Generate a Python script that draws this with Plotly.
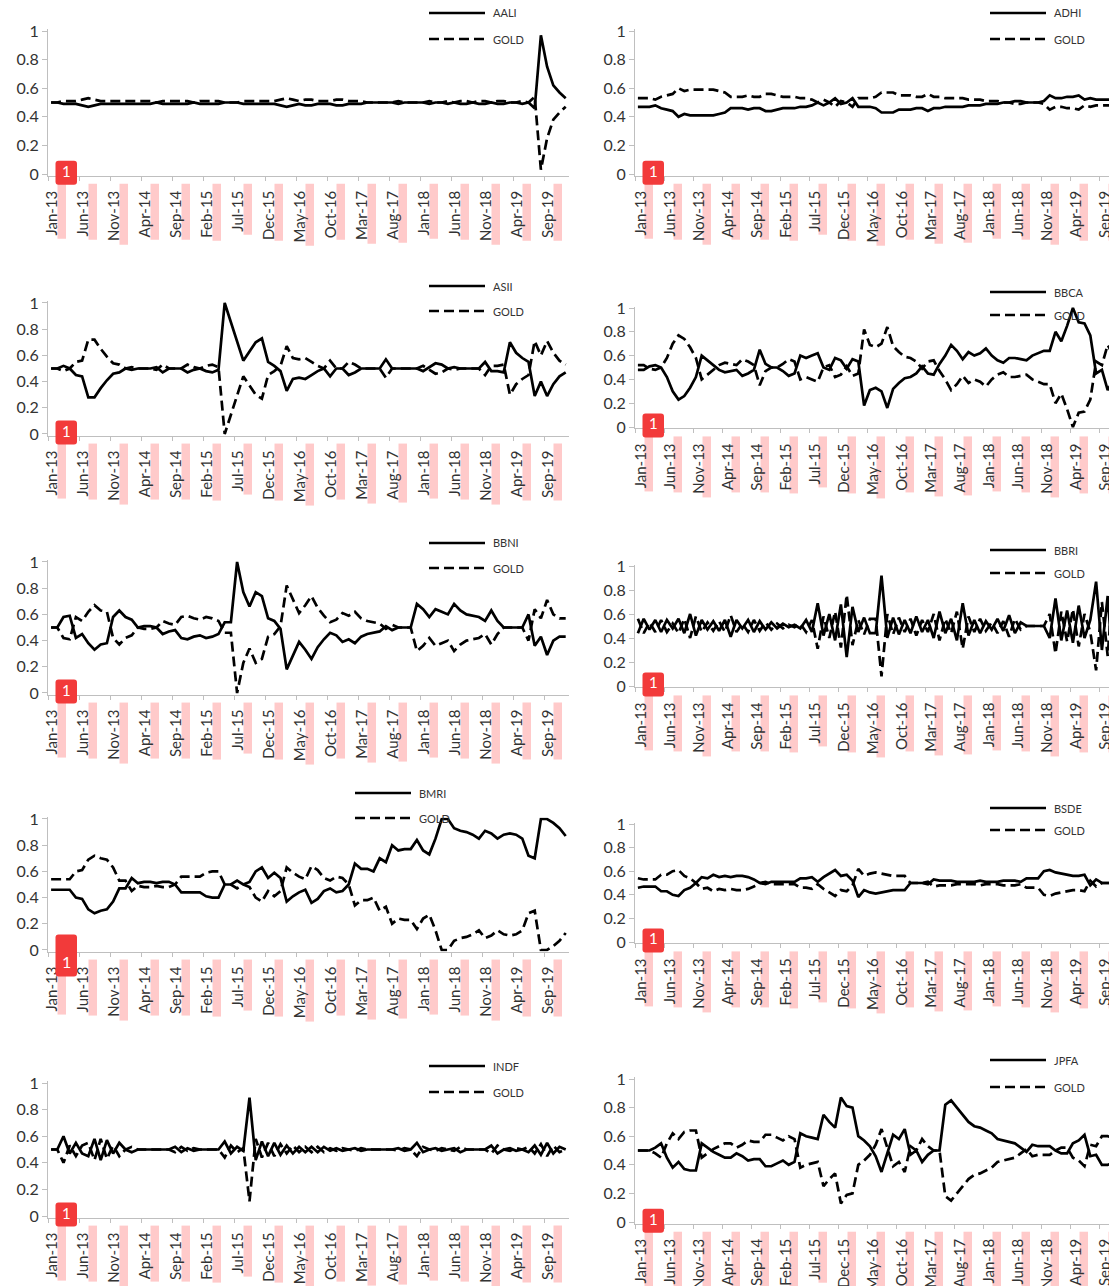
import plotly.graph_objects as go

# ---------------- categories / ticks ----------------
MONTH_ABBR = ["Jan", "Feb", "Mar", "Apr", "May", "Jun", "Jul", "Aug", "Sep", "Oct", "Nov", "Dec"]
months = [f"{m}-{y}" for y in range(13, 20) for m in MONTH_ABBR]  # Jan-13 .. Dec-19
month_pos = list(range(len(months)))                              # category slots 0..83

tick_labels = ["Jan-13", "Jun-13", "Nov-13", "Apr-14", "Sep-14", "Feb-15", "Jul-15", "Dec-15",
               "May-16", "Oct-16", "Mar-17", "Aug-17", "Jan-18", "Jun-18", "Nov-18", "Apr-19", "Sep-19"]
tick_pos = [months.index(t) for t in tick_labels]
y_tick_vals = [0, 0.2, 0.4, 0.6, 0.8, 1]
y_tick_text = ["0", "0.2", "0.4", "0.6", "0.8", "1"]

# ---------------- series values ----------------
aali = [.50, .50, .49, .49, .49, .48, .47, .48, .49, .49,
        .49, .49, .49, .49, .49, .49, .49, .50, .49, .49,
        .49, .49, .49, .50, .49, .49, .49, .49, .50, .50,
        .50, .49, .49, .49, .49, .49, .49, .48, .47, .48,
        .49, .48, .48, .49, .49, .49, .48, .48, .49, .49,
        .49, .50, .50, .50, .50, .50, .49, .50, .50, .50,
        .50, .49, .50, .50, .49, .50, .49, .49, .50, .49,
        .49, .50, .49, .49, .50, .50, .49, .50, .46, .97,
        .75, .62, .57, .53]
aali_gold = [.50, .50, .51, .51, .51, .52, .53, .52, .51, .51,
             .51, .51, .51, .51, .51, .51, .51, .50, .51, .51,
             .51, .51, .51, .50, .51, .51, .51, .51, .50, .50,
             .50, .51, .51, .51, .51, .51, .51, .52, .53, .52,
             .51, .52, .52, .51, .51, .51, .52, .52, .51, .51,
             .51, .50, .50, .50, .50, .50, .51, .50, .50, .50,
             .50, .51, .50, .50, .51, .50, .51, .51, .50, .51,
             .51, .50, .51, .51, .50, .50, .51, .50, .54, .03,
             .25, .38, .43, .47]

adhi = [.47, .47, .47, .48, .46, .45, .44, .40, .42, .41,
        .41, .41, .41, .41, .42, .43, .46, .46, .46, .45,
        .46, .46, .44, .44, .45, .46, .46, .46, .47, .47,
        .48, .50, .48, .50, .53, .49, .50, .53, .47, .47,
        .47, .46, .43, .43, .43, .45, .45, .45, .46, .46,
        .44, .46, .46, .47, .47, .47, .47, .48, .48, .48,
        .49, .49, .49, .50, .50, .51, .51, .50, .50, .50,
        .51, .55, .53, .53, .54, .54, .55, .52, .53, .52,
        .52, .52, .52, .52]
adhi_gold = [.53, .53, .53, .52, .54, .55, .56, .60, .58, .59,
             .59, .59, .59, .59, .58, .57, .54, .54, .54, .55,
             .54, .54, .56, .56, .55, .54, .54, .54, .53, .53,
             .52, .50, .52, .50, .47, .51, .50, .47, .53, .53,
             .53, .54, .57, .57, .57, .55, .55, .55, .54, .54,
             .56, .54, .54, .53, .53, .53, .53, .52, .52, .52,
             .51, .51, .51, .50, .50, .49, .49, .50, .50, .50,
             .49, .45, .47, .47, .46, .46, .45, .48, .47, .48,
             .48, .48, .48, .48]

asii = [.50, .50, .52, .50, .45, .44, .28, .28, .35, .41,
        .46, .47, .50, .49, .50, .50, .50, .51, .47, .50,
        .50, .50, .47, .49, .50, .48, .47, .49, 1.0, .85,
        .70, .56, .63, .70, .73, .55, .52, .48, .33, .42,
        .43, .42, .45, .48, .50, .44, .50, .50, .45, .47,
        .50, .50, .50, .50, .57, .50, .50, .50, .50, .50,
        .48, .51, .54, .53, .50, .51, .50, .50, .50, .50,
        .55, .48, .48, .47, .70, .62, .58, .55, .29, .40,
        .29, .38, .44, .47]
asii_gold = [.50, .50, .48, .50, .55, .56, .72, .72, .65, .59,
             .54, .53, .50, .51, .50, .50, .50, .49, .53, .50,
             .50, .50, .53, .51, .50, .52, .53, .51, .00, .15,
             .30, .44, .37, .30, .27, .45, .48, .52, .67, .58,
             .57, .58, .55, .52, .50, .56, .50, .50, .55, .53,
             .50, .50, .50, .50, .43, .50, .50, .50, .50, .50,
             .52, .49, .46, .47, .50, .49, .50, .50, .50, .50,
             .45, .52, .52, .53, .30, .38, .42, .45, .71, .60,
             .71, .62, .56, .53]

bbca = [.48, .48, .51, .52, .50, .42, .30, .23, .26, .33,
        .42, .60, .56, .52, .48, .46, .47, .48, .43, .45,
        .48, .65, .53, .50, .50, .47, .43, .45, .60, .58,
        .60, .62, .50, .48, .58, .56, .49, .57, .55, .18,
        .31, .33, .30, .16, .32, .37, .41, .42, .45, .51,
        .45, .44, .53, .60, .69, .64, .57, .63, .60, .62,
        .66, .60, .56, .54, .58, .58, .57, .56, .60, .62,
        .64, .64, .80, .72, .85, 1.0, .88, .87, .77, .45,
        .48, .31, .40, .46]
bbca_gold = [.52, .52, .49, .48, .50, .58, .70, .77, .74, .67,
             .58, .40, .44, .48, .52, .54, .53, .52, .57, .55,
             .52, .35, .47, .50, .50, .53, .57, .55, .40, .42,
             .40, .38, .50, .52, .42, .44, .51, .43, .45, .82,
             .69, .67, .70, .84, .68, .63, .59, .58, .55, .49,
             .55, .56, .47, .40, .31, .36, .43, .37, .40, .38,
             .34, .40, .44, .46, .42, .42, .43, .44, .40, .38,
             .36, .36, .20, .28, .15, .00, .12, .13, .23, .55,
             .52, .69, .60, .54]

bbni = [.50, .50, .58, .59, .42, .45, .38, .33, .37, .38,
        .58, .63, .58, .56, .50, .51, .51, .50, .45, .47,
        .48, .42, .41, .43, .44, .42, .43, .45, .54, .54,
        1.0, .77, .66, .77, .74, .57, .55, .49, .18, .29,
        .39, .33, .26, .35, .41, .46, .44, .39, .41, .38,
        .43, .45, .46, .47, .51, .48, .50, .50, .50, .68,
        .64, .58, .64, .62, .60, .68, .63, .60, .59, .58,
        .55, .63, .55, .50, .50, .50, .50, .60, .36, .43,
        .29, .40, .43, .43]
bbni_gold = [.50, .50, .42, .41, .58, .55, .62, .67, .63, .62,
             .42, .37, .42, .44, .50, .49, .49, .50, .55, .53,
             .52, .58, .59, .57, .56, .58, .57, .55, .46, .46,
             .00, .23, .34, .23, .26, .43, .45, .51, .82, .71,
             .61, .67, .74, .65, .59, .54, .56, .61, .59, .62,
             .57, .55, .54, .53, .49, .52, .50, .50, .50, .32,
             .36, .42, .36, .38, .40, .32, .37, .40, .41, .42,
             .45, .37, .45, .50, .50, .50, .50, .40, .64, .57,
             .71, .60, .57, .57]

bbri = [.44, .56, .47, .55, .45, .55, .48, .56, .44, .60,
        .42, .55, .47, .54, .46, .55, .41, .55, .48, .55,
        .45, .54, .47, .53, .48, .52, .49, .51, .48, .55,
        .45, .69, .42, .60, .38, .68, .24, .66, .45, .57,
        .44, .44, .92, .40, .57, .43, .55, .44, .58, .45,
        .55, .40, .62, .44, .56, .38, .69, .42, .55, .44,
        .54, .47, .56, .46, .59, .44, .53, .50, .50, .50,
        .50, .40, .73, .38, .63, .36, .67, .40, .55, .87,
        .30, .75, .08, .60]
bbri_gold = [.56, .44, .53, .45, .55, .45, .52, .44, .56, .40,
             .58, .45, .53, .46, .54, .45, .59, .45, .52, .45,
             .55, .46, .53, .47, .52, .48, .51, .49, .52, .45,
             .55, .31, .58, .40, .62, .32, .76, .34, .55, .43,
             .56, .56, .08, .60, .43, .57, .45, .56, .42, .55,
             .45, .60, .38, .56, .44, .62, .31, .58, .45, .56,
             .46, .53, .44, .54, .41, .56, .47, .50, .50, .50,
             .50, .60, .27, .62, .37, .64, .33, .60, .45, .13,
             .70, .25, .92, .40]

bmri = [.46, .46, .46, .46, .40, .39, .31, .28, .30, .31,
        .37, .47, .47, .55, .51, .52, .52, .51, .52, .52,
        .50, .44, .44, .44, .44, .41, .40, .40, .50, .50,
        .53, .50, .52, .60, .63, .55, .59, .55, .37, .41,
        .44, .46, .36, .39, .45, .47, .44, .45, .50, .66,
        .62, .62, .60, .70, .67, .80, .76, .77, .77, .84,
        .76, .73, .85, 1.0, 1.0, .93, .91, .90, .88, .85,
        .91, .89, .85, .88, .89, .88, .85, .72, .70, 1.0,
        1.0, .97, .93, .87]
bmri_gold = [.54, .54, .54, .54, .60, .61, .69, .72, .70, .69,
             .63, .53, .53, .45, .49, .48, .48, .49, .48, .48,
             .50, .56, .56, .56, .56, .59, .60, .60, .50, .50,
             .47, .50, .48, .40, .37, .45, .41, .45, .63, .59,
             .56, .54, .64, .61, .55, .53, .56, .55, .50, .34,
             .38, .38, .40, .30, .33, .20, .24, .23, .23, .16,
             .24, .27, .15, .00, .00, .07, .09, .10, .12, .15,
             .09, .11, .15, .12, .11, .12, .15, .28, .30, .00,
             .00, .03, .07, .13]

bsde = [.46, .47, .47, .47, .43, .43, .40, .39, .44, .46,
        .50, .55, .54, .57, .55, .56, .55, .56, .56, .55,
        .53, .50, .49, .51, .51, .51, .51, .51, .54, .54,
        .55, .51, .55, .58, .61, .56, .57, .52, .38, .44,
        .42, .41, .42, .43, .44, .44, .44, .50, .50, .50,
        .49, .53, .52, .52, .52, .51, .51, .51, .51, .52,
        .51, .51, .51, .52, .52, .52, .51, .54, .54, .54,
        .60, .61, .59, .58, .57, .56, .56, .57, .48, .53,
        .50, .50, .50, .50]
bsde_gold = [.54, .53, .53, .53, .57, .57, .60, .61, .56, .54,
             .50, .45, .46, .43, .45, .44, .45, .44, .44, .45,
             .47, .50, .51, .49, .49, .49, .49, .49, .46, .46,
             .45, .49, .45, .42, .39, .44, .43, .48, .62, .56,
             .58, .59, .58, .57, .56, .56, .56, .50, .50, .50,
             .51, .47, .48, .48, .48, .49, .49, .49, .49, .48,
             .49, .49, .49, .48, .48, .48, .49, .46, .46, .46,
             .40, .39, .41, .42, .43, .44, .44, .43, .52, .47,
             .50, .50, .50, .50]

indf = [.50, .50, .60, .47, .55, .47, .45, .58, .42, .57,
        .47, .55, .50, .48, .50, .50, .50, .50, .50, .50,
        .52, .48, .51, .49, .50, .50, .50, .50, .56, .47,
        .52, .49, .89, .42, .56, .45, .55, .46, .53, .47,
        .52, .48, .52, .48, .52, .49, .51, .49, .50, .51,
        .49, .50, .50, .50, .50, .50, .51, .49, .50, .55,
        .48, .50, .51, .49, .50, .51, .48, .50, .50, .50,
        .50, .53, .47, .50, .51, .49, .50, .48, .53, .46,
        .55, .47, .52, .50]
indf_gold = [.50, .50, .40, .53, .45, .53, .55, .42, .58, .43,
             .53, .45, .50, .52, .50, .50, .50, .50, .50, .50,
             .48, .52, .49, .51, .50, .50, .50, .50, .44, .53,
             .48, .51, .11, .58, .44, .55, .45, .54, .47, .53,
             .48, .52, .48, .52, .48, .51, .49, .51, .50, .49,
             .51, .50, .50, .50, .50, .50, .49, .51, .50, .45,
             .52, .50, .49, .51, .50, .49, .52, .50, .50, .50,
             .50, .47, .53, .50, .49, .51, .50, .52, .47, .54,
             .45, .53, .48, .50]

jpfa = [.50, .50, .50, .52, .55, .45, .38, .42, .37, .36,
        .36, .55, .52, .49, .47, .45, .45, .48, .46, .43,
        .44, .44, .39, .39, .41, .43, .40, .42, .62, .60,
        .59, .58, .75, .70, .66, .87, .81, .80, .60, .57,
        .53, .46, .35, .48, .61, .58, .65, .47, .50, .42,
        .47, .50, .50, .82, .85, .80, .75, .70, .67, .66,
        .64, .62, .58, .57, .56, .55, .52, .49, .54, .53,
        .53, .53, .50, .48, .48, .55, .57, .61, .46, .47,
        .40, .40, .41, .41]
jpfa_gold = [.50, .50, .50, .48, .45, .55, .62, .58, .63, .64,
             .64, .45, .48, .51, .53, .55, .55, .52, .54, .57,
             .56, .56, .61, .61, .59, .57, .60, .58, .38, .40,
             .41, .42, .25, .30, .34, .13, .19, .20, .40, .43,
             .47, .54, .65, .52, .39, .42, .35, .53, .50, .58,
             .53, .50, .50, .18, .15, .20, .25, .30, .33, .34,
             .36, .38, .42, .43, .44, .45, .48, .51, .46, .47,
             .47, .47, .50, .52, .52, .45, .43, .39, .54, .53,
             .60, .60, .59, .59]

# ---------------- layout geometry (window pixels) ----------------
WIN_W, WIN_H = 1117, 1286
PAGE_MARGIN = 8                       # default body margin of the written page
FIG_W, FIG_H = WIN_W - PAGE_MARGIN, WIN_H - PAGE_MARGIN
FONT = "Lato"
TXT = "#333333"
AXIS_GRAY = "#BFBFBF"

# x0: axis start (px); step: px per month; lab: label shift (px)
COLS = {
    "L": dict(x0=48, step=6.2, lab=4, leg=(429, 485, 491)),
    "R": dict(x0=635, step=5.8, lab=6, leg=(990, 1046, 1052)),
}
# name, stock, gold, column, y px of value 1, y px of value 0, legend y (name), legend y (GOLD)
panels = [
    ("AALI", aali, aali_gold, "L", 31, 174, 13, 39),
    ("ADHI", adhi, adhi_gold, "R", 31, 174, 13, 39),
    ("ASII", asii, asii_gold, "L", 303, 434, 286, 311),
    ("BBCA", bbca, bbca_gold, "R", 308, 427, 292, 315),
    ("BBNI", bbni, bbni_gold, "L", 562, 693, 543, 568),
    ("BBRI", bbri, bbri_gold, "R", 566, 686, 550, 573),
    ("BMRI", bmri, bmri_gold, "L", 819, 950, 793, 818),
    ("BSDE", bsde, bsde_gold, "R", 824, 942, 808, 830),
    ("INDF", indf, indf_gold, "L", 1083, 1216, 1066, 1092),
    ("JPFA", jpfa, jpfa_gold, "R", 1079, 1222, 1060, 1087),
]
legend_x_override = {"BMRI": (355, 411, 417)}

# pink marker bars beside each tick label (length below the axis, px)
bar_len_px = [63, 64, 69, 64, 64, 65, 59, 65, 70, 64, 68, 67, 63, 64, 69, 65, 65]

DASH = "10px,5px"
LW = 2.7

fig = go.Figure()
shapes, annotations = [], []
axes_layout = {}
fig_right_px = PAGE_MARGIN + FIG_W


def px_x(p):
    return (p - PAGE_MARGIN) / FIG_W


def px_y(p):
    return 1 - (p - PAGE_MARGIN) / FIG_H


for n, (name, stock, gold, col, ytop, ybot, ly1, ly2) in enumerate(panels, start=1):
    assert len(stock) == len(months) and len(gold) == len(months), name
    c = COLS[col]
    x_right_px = min(c["x0"] + 84 * c["step"], fig_right_px)
    rng = [-0.5, -0.5 + (x_right_px - c["x0"]) / c["step"]]
    pad = 0.012 * (ybot - ytop)
    ydom = [px_y(ybot + pad), px_y(ytop - pad)]
    xdom = [px_x(c["x0"]), min(1.0, px_x(x_right_px))]
    xa = "x" if n == 1 else f"x{n}"
    ya = "y" if n == 1 else f"y{n}"
    xkey = "xaxis" if n == 1 else f"xaxis{n}"
    ykey = "yaxis" if n == 1 else f"yaxis{n}"

    # tick marks sit on category boundaries, labels are shifted to category centres
    axes_layout[xkey] = dict(
        domain=xdom, anchor=ya, range=rng, automargin=False,
        tickmode="array", tickvals=[p - 0.5 for p in tick_pos], ticktext=tick_labels,
        tickangle=-90, tickfont=dict(family=FONT, size=15, color=TXT),
        showline=True, linecolor=AXIS_GRAY, linewidth=1,
        ticks="outside", ticklen=4, tickcolor=AXIS_GRAY,
        showgrid=False, zeroline=False, ticklabelshift=c["lab"], ticklabelstandoff=4,
    )
    axes_layout[ykey] = dict(
        domain=ydom, anchor=xa, range=[-0.012, 1.012], automargin=False,
        tickmode="array", tickvals=y_tick_vals, ticktext=y_tick_text,
        tickfont=dict(family=FONT, size=16, color=TXT),
        showline=True, linecolor=AXIS_GRAY, linewidth=1,
        ticks="outside", ticklen=5, tickcolor=AXIS_GRAY,
        showgrid=False, zeroline=False,
    )

    fig.add_trace(go.Scatter(x=month_pos, y=stock, mode="lines", name=name, text=months,
                             line=dict(color="black", width=LW),
                             xaxis=xa, yaxis=ya, showlegend=False, hoverinfo="skip"))
    fig.add_trace(go.Scatter(x=month_pos, y=gold, mode="lines", name="GOLD", text=months,
                             line=dict(color="black", width=LW, dash=DASH),
                             xaxis=xa, yaxis=ya, showlegend=False, hoverinfo="skip"))

    # legend (drawn manually)
    lx0, lx1, tx = legend_x_override.get(name, c["leg"])
    for label, ly, dash in ((name, ly1, None), ("GOLD", ly2, DASH)):
        line = dict(color="black", width=LW)
        if dash:
            line["dash"] = dash
        shapes.append(dict(type="line", xref="paper", yref="paper",
                           x0=px_x(lx0), x1=px_x(lx1), y0=px_y(ly), y1=px_y(ly), line=line))
        annotations.append(dict(xref="paper", yref="paper", x=px_x(tx), y=px_y(ly),
                                xanchor="left", yanchor="middle", showarrow=False, text=label,
                                font=dict(family=FONT, size=11, color=TXT)))

    # pink bars beside tick labels
    xd = f"{xa}"
    yd = f"{ya} domain"
    for k, p in enumerate(tick_pos):
        shapes.append(dict(type="rect", xref=xd, yref=yd, layer="below",
                           xsizemode="pixel", xanchor=p - 0.5, x0=9.5, x1=18,
                           ysizemode="pixel", yanchor=0, y0=-8, y1=-bar_len_px[k],
                           fillcolor="#FFCACA", line=dict(width=0)))

    # red "1" badge
    if name == "BMRI":
        b_top, b_bot, t_shift, t_size = 17, -25, -10, 16
    else:
        b_top, b_bot, t_shift, t_size = 15, -9, 5, 15
    l, r, rr = 7.5, 29, 3
    path = (f"M{l + rr},{b_bot} L{r - rr},{b_bot} Q{r},{b_bot} {r},{b_bot + rr} "
            f"L{r},{b_top - rr} Q{r},{b_top} {r - rr},{b_top} L{l + rr},{b_top} "
            f"Q{l},{b_top} {l},{b_top - rr} L{l},{b_bot + rr} Q{l},{b_bot} {l + rr},{b_bot} Z")
    shapes.append(dict(type="path", xref=xd, yref=yd, layer="above",
                       xsizemode="pixel", xanchor=-0.5, ysizemode="pixel", yanchor=0,
                       path=path, fillcolor="#F23A3A", line=dict(width=0)))
    annotations.append(dict(xref=xd, yref=yd, x=-0.5, y=0, xshift=(l + r) / 2, yshift=t_shift,
                            xanchor="center", yanchor="middle", showarrow=False, text="1",
                            font=dict(family=FONT, size=t_size, color="white")))

fig.update_layout(
    template="none",
    width=FIG_W, height=FIG_H,
    autosize=False,
    margin=dict(l=0, r=0, t=0, b=0, pad=0, autoexpand=False),
    paper_bgcolor="white", plot_bgcolor="white",
    font=dict(family=FONT, color=TXT),
    showlegend=False,
    shapes=shapes, annotations=annotations,
    **axes_layout,
)

fig.write_html("out.html", config={"displayModeBar": False})
